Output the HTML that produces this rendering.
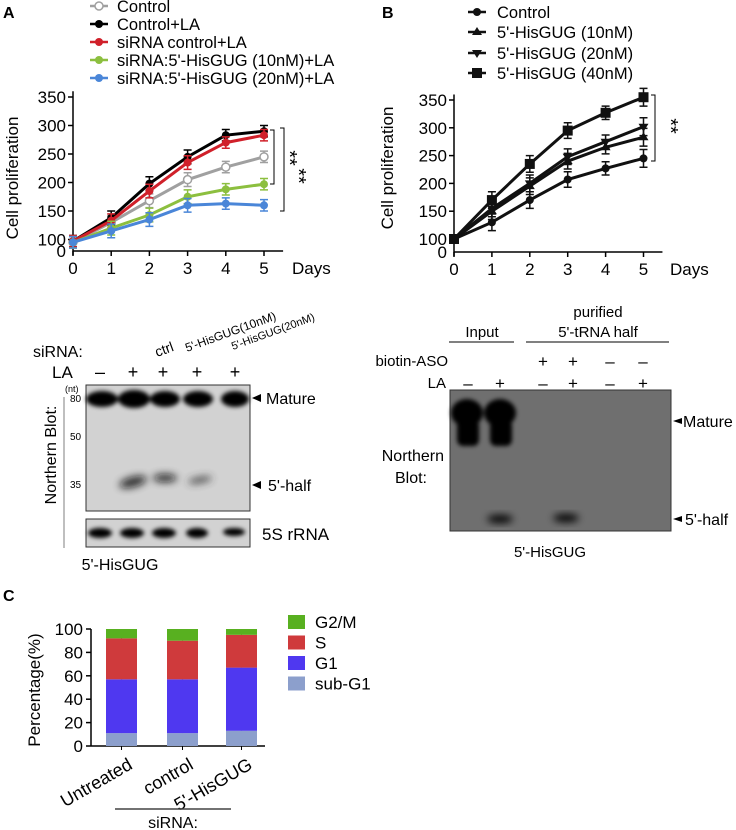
<!DOCTYPE html>
<html><head><meta charset="utf-8"><style>
body{margin:0;background:#fff;}
svg{display:block;font-family:"Liberation Sans",Arial,sans-serif;}
</style></head><body>
<svg id="fig" width="736" height="830" viewBox="0 0 736 830">
<defs>
<filter id="bl2" x="-50%" y="-50%" width="200%" height="200%"><feGaussianBlur stdDeviation="2"/></filter>
<filter id="bl4" x="-50%" y="-50%" width="200%" height="200%"><feGaussianBlur stdDeviation="4"/></filter>
</defs>
<g id="pA"></g>
<g id="pB"></g>
<g id="pC"></g>

<!-- Panel A blot -->
<g>
<text x="33" y="357" font-size="16">siRNA:</text>
<text x="52" y="378" font-size="17">LA</text>
<text x="100" y="378" font-size="18" text-anchor="middle">–</text>
<text x="133" y="378" font-size="18" text-anchor="middle">+</text>
<text x="163" y="378" font-size="18" text-anchor="middle">+</text>
<text x="197" y="378" font-size="18" text-anchor="middle">+</text>
<text x="235" y="378" font-size="18" text-anchor="middle">+</text>
<text x="157" y="357" font-size="14" transform="rotate(-20 157 357)">ctrl</text>
<text x="187" y="352" font-size="12" transform="rotate(-20 187 352)">5'-HisGUG(10nM)</text>
<text x="233" y="350" font-size="11" transform="rotate(-20 233 350)">5'-HisGUG(20nM)</text>
<text x="65" y="392" font-size="9">(nt)</text>
<rect x="86" y="385" width="164" height="126" fill="#d2d2d2" stroke="#333" stroke-width="1"/>
<g filter="url(#bl2)">
<ellipse cx="102" cy="399" rx="16" ry="8" fill="#000"/>
<ellipse cx="134" cy="399" rx="16" ry="9" fill="#000"/>
<ellipse cx="165" cy="399" rx="15" ry="8" fill="#000"/>
<ellipse cx="198" cy="399" rx="15" ry="8" fill="#000"/>
<ellipse cx="235" cy="399" rx="14" ry="8" fill="#000"/>
</g>
<g filter="url(#bl4)" opacity="0.85">
<ellipse cx="133" cy="482" rx="14" ry="5" fill="#111" transform="rotate(-15 133 482)"/>
<ellipse cx="165" cy="478" rx="12" ry="4" fill="#111"/>
<ellipse cx="200" cy="480" rx="12" ry="3" fill="#333" transform="rotate(-10 200 480)"/>
</g>
<line x1="64" y1="397" x2="64" y2="548" stroke="#aaa" stroke-width="1.5"/>
<text x="70" y="402" font-size="10">80</text>
<text x="70" y="440" font-size="10">50</text>
<text x="70" y="488" font-size="10">35</text>
<text x="56" y="455" font-size="16" text-anchor="middle" transform="rotate(-90 56 455)">Northern Blot:</text>
<path d="M252,398 l9,-4 v8z" fill="#000"/>
<text x="266" y="404" font-size="16">Mature</text>
<path d="M252,485 l9,-4 v8z" fill="#000"/>
<text x="268" y="491" font-size="16">5'-half</text>
<rect x="86" y="519" width="164" height="28" fill="#d2d2d2" stroke="#333"/>
<g filter="url(#bl2)">
<ellipse cx="100" cy="533" rx="12" ry="5" fill="#000"/>
<ellipse cx="132" cy="533" rx="12" ry="5" fill="#000"/>
<ellipse cx="164" cy="533" rx="12" ry="5" fill="#000"/>
<ellipse cx="197" cy="533" rx="11" ry="5" fill="#000"/>
<ellipse cx="234" cy="532" rx="11" ry="4" fill="#000"/>
</g>
<text x="262" y="540" font-size="17">5S rRNA</text>
<text x="120" y="570" font-size="16" text-anchor="middle">5'-HisGUG</text>
</g>

<!-- Panel B blot -->
<g>
<text x="598" y="317" font-size="15" text-anchor="middle">purified</text>
<text x="482" y="337" font-size="15" text-anchor="middle">Input</text>
<text x="598" y="337" font-size="15" text-anchor="middle">5'-tRNA half</text>
<line x1="449" y1="342" x2="514" y2="342" stroke="#000"/>
<line x1="526" y1="342" x2="669" y2="342" stroke="#000"/>
<text x="448" y="366" font-size="15" text-anchor="end">biotin-ASO</text>
<text x="446" y="388" font-size="15" text-anchor="end">LA</text>
<g font-size="17" text-anchor="middle">
<text x="543" y="367">+</text><text x="573" y="367">+</text><text x="610" y="367">–</text><text x="643" y="367">–</text>
<text x="468" y="389">–</text><text x="500" y="389">+</text><text x="543" y="389">–</text><text x="573" y="389">+</text><text x="610" y="389">–</text><text x="643" y="389">+</text>
</g>
<rect x="450" y="390" width="221" height="141" fill="#6f6f6f" stroke="#333"/>
<g filter="url(#bl2)">
<ellipse cx="467" cy="413" rx="16" ry="14" fill="#000"/>
<ellipse cx="500" cy="413" rx="16" ry="14" fill="#000"/>
<rect x="457" y="420" width="22" height="26" rx="6" fill="#000"/>
<rect x="490" y="420" width="22" height="26" rx="6" fill="#000"/>
</g>
<g filter="url(#bl4)">
<ellipse cx="500" cy="519" rx="13" ry="4" fill="#000"/>
<ellipse cx="566" cy="518" rx="13" ry="4" fill="#000"/>
</g>
<text x="444" y="461" font-size="16" text-anchor="end">Northern</text>
<text x="427" y="483" font-size="16" text-anchor="end">Blot:</text>
<path d="M673,421 l9,-3 v6z" fill="#000"/>
<text x="683" y="427" font-size="16">Mature</text>
<path d="M673,519 l9,-3 v6z" fill="#000"/>
<text x="685" y="525" font-size="16">5'-half</text>
<text x="550" y="557" font-size="15" text-anchor="middle">5'-HisGUG</text>
</g>

<text x="3" y="18" font-size="16" font-weight="bold">A</text>
<text x="382" y="18" font-size="16" font-weight="bold">B</text>
<text x="3" y="601" font-size="16" font-weight="bold">C</text>
</svg>
<script>
const NS="http://www.w3.org/2000/svg";
function mk(p,t,a){const e=document.createElementNS(NS,t);for(const k in a)e.setAttribute(k,a[k]);p.appendChild(e);return e;}

// ---- Panel A data ----
const daysA=[0,1,2,3,4,5];
const yTicksA=[100,150,200,250,300,350];
const aControl=[95,130,168,205,227,245];
const aControlLA=[97,138,198,245,283,290];
const aSiCtrl=[97,133,185,235,270,283];
const aSi10=[95,120,143,175,188,197];
const aSi20=[95,115,135,160,163,160];
const aErr=[10,12,12,12,10,10];
const namesA=["Control","Control+LA","siRNA control+LA","siRNA:5'-HisGUG (10nM)+LA","siRNA:5'-HisGUG (20nM)+LA"];

// ---- Panel B data ----
const daysB=[0,1,2,3,4,5];
const yTicksB=[100,150,200,250,300,350];
const bControl=[100,130,170,207,227,245];
const b10=[100,150,195,240,265,283];
const b20=[100,155,200,248,275,302];
const b40=[100,170,235,295,327,355];
const bErr=[6,15,15,14,12,16];
const namesB=["Control","5'-HisGUG (10nM)","5'-HisGUG (20nM)","5'-HisGUG (40nM)"];

// ---- Panel C data ----
const catsC=["Untreated","control","5'-HisGUG"];
const subG1=[11,11,13];
const g1=[46,46,54];
const sPh=[35,33,28];
const g2m=[8,10,5];
const errSub=[4,4,5];
const errG1=[7,5,3];
const errS=[3,5,2];
const yTicksC=[0,20,40,60,80,100];

function lineChart(g,o){
  const x=d=>o.x0+d*o.dx, y=v=>o.y350+(350-v)*o.k;
  const base=o.yZero;
  mk(g,"line",{x1:o.x0,y1:y(360),x2:o.x0,y2:base+4,stroke:"#000","stroke-width":1.5});
  mk(g,"line",{x1:o.x0,y1:base,x2:x(5.5),y2:base,stroke:"#000","stroke-width":1.5});
  o.yt.forEach(v=>{mk(g,"line",{x1:o.x0-5,y1:y(v),x2:o.x0,y2:y(v),stroke:"#000","stroke-width":1.5});
    const t=mk(g,"text",{x:o.x0-7,y:y(v)+6,"font-size":17,"text-anchor":"end"});t.textContent=v;
    
    });
  const t0=mk(g,"text",{x:o.x0-7,y:base+6,"font-size":17,"text-anchor":"end"});t0.textContent="0";
  o.days.forEach(d=>{mk(g,"line",{x1:x(d),y1:base,x2:x(d),y2:base+5,stroke:"#000","stroke-width":1.5});
    const t=mk(g,"text",{x:x(d),y:base+23,"font-size":17,"text-anchor":"middle"});t.textContent=d;
    
    });
  const dt=mk(g,"text",{x:o.daysX,y:base+23,"font-size":17});dt.textContent="Days";
  
  
  const yt=mk(g,"text",{x:o.ytx,y:o.yty,"font-size":17,"text-anchor":"middle",transform:`rotate(-90 ${o.ytx} ${o.yty})`});yt.textContent="Cell proliferation";
  
  
  o.series.forEach((s,i)=>{
    const sg=mk(g,"g",{});
    
    
    s.v.forEach((v,j)=>{const e=o.err[j];
      mk(sg,"path",{d:`M${x(o.days[j])},${y(v+e)}V${y(v-e)}M${x(o.days[j])-4},${y(v+e)}h8M${x(o.days[j])-4},${y(v-e)}h8`,stroke:s.c,"stroke-width":1.5,fill:"none"});});
    mk(sg,"polyline",{points:s.v.map((v,j)=>x(o.days[j])+","+y(v)).join(" "),fill:"none",stroke:s.c,"stroke-width":3});
    s.v.forEach((v,j)=>{marker(sg,s.m,x(o.days[j]),y(v),s.c);});
    const ly=o.legY[i];
    mk(g,"line",{x1:o.legX,y1:ly,x2:o.legX+18,y2:ly,stroke:s.c,"stroke-width":2.5});
    marker(g,s.m,o.legX+9,ly,s.c);
    const lt=mk(g,"text",{x:o.legX+o.legT,y:ly+6,"font-size":o.legF});lt.textContent=s.n;
    
    
  });
}
function marker(g,m,cx,cy,c){
  if(m==="o")mk(g,"circle",{cx,cy,r:4,fill:"#fff",stroke:c,"stroke-width":1.5});
  else if(m==="c")mk(g,"circle",{cx,cy,r:4,fill:c});
  else if(m==="s")mk(g,"rect",{x:cx-5,y:cy-5,width:10,height:10,fill:c});
  else if(m==="t")mk(g,"path",{d:`M${cx},${cy-5}l5,8h-10z`,fill:c});
  else if(m==="v")mk(g,"path",{d:`M${cx},${cy+5}l5,-8h-10z`,fill:c});
}
const gA=document.getElementById("pA");
lineChart(gA,{x0:73,dx:38.2,y350:97,k:0.57,yZero:251,yt:yTicksA,days:daysA,daysX:292,ytx:18,yty:178,err:aErr,
  legX:90,legT:27,legF:16.5,legY:[6,24,42,60,78],
  series:[{v:aControl,c:"#a0a0a0",m:"o",n:namesA[0]},{v:aControlLA,c:"#000",m:"c",n:namesA[1]},{v:aSiCtrl,c:"#d0202a",m:"c",n:namesA[2]},
  {v:aSi10,c:"#8cbf3f",m:"c",n:namesA[3]},{v:aSi20,c:"#4a86d8",m:"c",n:namesA[4]}]});
mk(gA,"path",{d:"M270,130h4V184h-4",fill:"none",stroke:"#000"});
mk(gA,"path",{d:"M280,128h4V211h-4",fill:"none",stroke:"#000"});
[[283,158],[292,176]].forEach(p=>{const t=mk(gA,"text",{x:p[0],y:p[1],"font-size":20,"text-anchor":"middle",transform:`rotate(90 ${p[0]} ${p[1]})`});t.textContent="**";
  
  });

const gB=document.getElementById("pB");
lineChart(gB,{x0:454,dx:37.9,y350:100,k:0.556,yZero:252,yt:yTicksB,days:daysB,daysX:670,ytx:393,yty:168,err:bErr,
  legX:468,legT:29,legF:16.5,legY:[12,32,53,73],
  series:[{v:bControl,c:"#111",m:"c",n:namesB[0]},{v:b10,c:"#111",m:"t",n:namesB[1]},{v:b20,c:"#111",m:"v",n:namesB[2]},{v:b40,c:"#111",m:"s",n:namesB[3]}]});
mk(gB,"path",{d:"M651,95h4V161h-4",fill:"none",stroke:"#000"});
{const t=mk(gB,"text",{x:664,y:126,"font-size":20,"text-anchor":"middle",transform:"rotate(90 664 126)"});t.textContent="**";
 
 }

// Panel C
const gC=document.getElementById("pC");
const yC=v=>746-v*1.17, bx=[106,167,226], bw=31;
mk(gC,"line",{x1:91,y1:yC(100),x2:91,y2:746,stroke:"#000","stroke-width":1.5});
mk(gC,"line",{x1:91,y1:746,x2:265,y2:746,stroke:"#000","stroke-width":1.5});
yTicksC.forEach(v=>{mk(gC,"line",{x1:86,y1:yC(v),x2:91,y2:yC(v),stroke:"#000","stroke-width":1.5});
  const t=mk(gC,"text",{x:83,y:yC(v)+6,"font-size":17,"text-anchor":"end"});t.textContent=v;
  
  });
{const t=mk(gC,"text",{x:40,y:690,"font-size":17,"text-anchor":"middle",transform:"rotate(-90 40 690)"});t.textContent="Percentage(%)";
 
 }
const layers=[{v:subG1,c:"#8c9fcc",e:errSub,ec:"#8c9fcc"},{v:g1,c:"#4f38f0",e:errG1,ec:"#5a40c0"},{v:sPh,c:"#cf3a3c",e:errS,ec:"#a33"},{v:g2m,c:"#58b020",e:null}];
catsC.forEach((cat,i)=>{let acc=0;
  const cx=bx[i]+bw/2;
  mk(gC,"line",{x1:cx,y1:746,x2:cx,y2:750,stroke:"#000"});
  layers.forEach((L,li)=>{const v=L.v[i];
    const r=mk(gC,"rect",{x:bx[i],y:yC(acc+v),width:bw,height:v*1.17,fill:L.c});
    
    
    acc+=v;
    if(L.e){const top=yC(acc+L.e[i]);mk(gC,"path",{d:`M${cx},${yC(acc)}V${top}M${cx-6},${top}h12`,stroke:L.ec,"stroke-width":1.2,fill:"none"});}
  });
  const t=mk(gC,"text",{x:cx+12,y:768,"font-size":18,"text-anchor":"end",transform:`rotate(-30 ${cx+12} 768)`});t.textContent=cat;
  
  
});
mk(gC,"line",{x1:115,y1:809,x2:231,y2:809,stroke:"#444","stroke-width":1.5});
{const t=mk(gC,"text",{x:173,y:828,"font-size":16,"text-anchor":"middle"});t.textContent="siRNA:";
 
 }
const legC=[["G2/M","#58b020"],["S","#cf3a3c"],["G1","#4f38f0"],["sub-G1","#8c9fcc"]];
legC.forEach((l,i)=>{const ly=622+i*20.5;
  mk(gC,"rect",{x:288,y:ly-7,width:17,height:14,fill:l[1]});
  const t=mk(gC,"text",{x:315,y:ly+6,"font-size":17});t.textContent=l[0];
  
  });
</script>
</body></html>
